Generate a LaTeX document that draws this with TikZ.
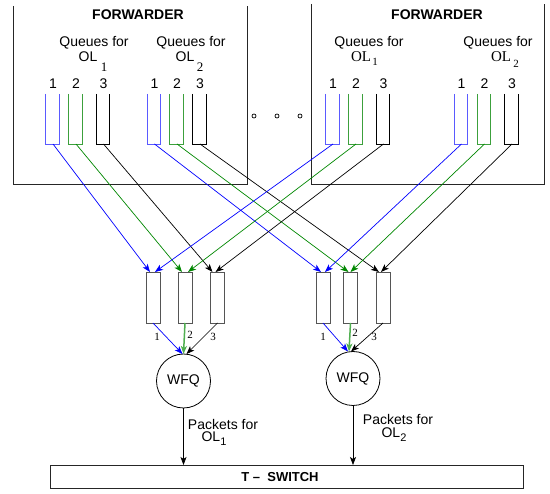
\documentclass[tikz,border=0pt]{standalone}
\usepackage{fontspec}
\setmainfont{Liberation Sans}
\newfontfamily\numserif{Liberation Serif}
\usetikzlibrary{arrows.meta,calc}

\definecolor{lineblue}{RGB}{0,0,255}
\definecolor{linegreen}{RGB}{0,135,0}
\definecolor{qblue}{RGB}{90,90,255}
\definecolor{qgreen}{RGB}{60,160,60}
\definecolor{wfqgreen}{RGB}{80,175,80}
\definecolor{boxgray}{RGB}{85,85,85}

\begin{document}
\begin{tikzpicture}[x=1pt,y=-1pt,
  every node/.style={inner sep=0pt,outer sep=0pt},
  txt/.style={font=\fontsize{14}{14}\selectfont},
  bold/.style={font=\fontsize{14}{14}\selectfont\bfseries},
  subnum/.style={font=\numserif\fontsize{13}{13}\selectfont},
  smallnum/.style={font=\numserif\fontsize{11}{11}\selectfont},
  frame/.style={draw=black!85,line width=0.9pt},
  uqueue/.style={line width=0.85pt},
  lowq/.style={draw=boxgray,line width=0.9pt,minimum width=14pt,minimum height=51pt},
  wfq/.style={draw,circle,line width=0.8pt,minimum size=54pt,font=\fontsize{14}{14}\selectfont},
  flow/.style={-{Stealth[length=8pt,width=6pt,inset=2pt]},line width=0.7pt},
  dot/.style={draw,line width=0.7pt}
]
\useasboundingbox (0,0) rectangle (550,494);

% forwarder frames (open at the top)
\draw[frame] (13,6) -- (13,184) -- (247,184) -- (247,6);
\draw[frame] (311,4) -- (311,184) -- (544,184) -- (544,4);
\node[bold] (fw1) at (138,15) {FORWARDER};
\node[bold] (fw2) at (437,15) {FORWARDER};

% queue group headings
\node[txt] (h1) at (94,43) {Queues for};
\node[txt] (h1ol) at (88,57) {OL};
\node[subnum] (h1s) at (104,67) {1};
\node[txt] (h2) at (191,43) {Queues for};
\node[txt] (h2ol) at (185,57) {OL};
\node[subnum] (h2s) at (200,67) {2};
\node[txt] (h3) at (369,43) {Queues for};
\node[font=\numserif\fontsize{15}{15}\selectfont] (h3ol) at (361,57) {OL};
\node[smallnum] (h3s) at (375,62) {1};
\node[txt] (h4) at (498,43) {Queues for};
\node[font=\numserif\fontsize{15}{15}\selectfont] (h4ol) at (501,57) {OL};
\node[smallnum] (h4s) at (516,64) {2};

% forwarder queues: open-top buckets, numbered 1-3
\foreach \n/\xl/\xr/\c/\k in {a1/45/59/qblue/1, a2/68/82/qgreen/2, a3/96/109/black/3,
                              b1/147/160/qblue/1, b2/169/183/qgreen/2, b3/192/206/black/3,
                              c1/325/339/qblue/1, c2/348/362/qgreen/2, c3/376/389/black/3,
                              d1/454/467/qblue/1, d2/477/490/qgreen/2, d3/504/518/black/3} {
  \draw[uqueue,\c] (\xl,94) -- (\xl,144) -- (\xr,144) -- (\xr,94);
  \coordinate (\n) at ({(\xl+\xr)/2+1},144);
  \node[txt] (\n num) at ({(\xl+\xr)/2+1},84) {\k};
}

% dots between the forwarders
\draw[dot] (254,116) circle (2);
\draw[dot] (277,116) circle (2);
\draw[dot] (300,116) circle (2);

% per-link queues
\node[lowq] (L1) at (153,297.5) {};
\node[lowq] (L2) at (185,297.5) {};
\node[lowq] (L3) at (217.5,297.5) {};
\node[lowq] (R1) at (323,297.5) {};
\node[lowq] (R2) at (350.5,297.5) {};
\node[lowq] (R3) at (383,297.5) {};

% WFQ schedulers
\node[wfq] (W1) at (183.5,381) {WFQ};
\node[wfq] (W2) at (353,378.5) {WFQ};

% T-switch
\node[draw=black!85,line width=0.9pt,minimum width=473pt,minimum height=23pt] (T) at (286.5,476.5) {};
\node[font=\fontsize{13}{13}\selectfont\bfseries] (Tlab) at (280,477) {T –\ \ SWITCH};

% forwarder queues to per-link queues
\draw[flow,lineblue]  (a1) -- ([xshift=-3pt]L1.north);
\draw[flow,linegreen] (a2) -- ([xshift=-3pt]L2.north);
\draw[flow]           (a3) -- ([xshift=-5pt]L3.north);
\draw[flow,lineblue]  (b1) -- ([xshift=-2pt]R1.north);
\draw[flow,linegreen] (b2) -- ([xshift=-2pt]R2.north);
\draw[flow]           (b3) -- ([xshift=-4pt]R3.north);
\draw[flow,lineblue]  (c1) -- ([xshift=2pt]L1.north);
\draw[flow,linegreen] (c2) -- ([xshift=3pt]L2.north);
\draw[flow]           (c3) -- ([xshift=-2pt]L3.north);
\draw[flow,lineblue]  (d1) -- ([xshift=2pt]R1.north);
\draw[flow,linegreen] (d2) -- (R2.north);
\draw[flow]           (d3) -- ([xshift=-2pt]R3.north);

% per-link queues to schedulers
\draw[flow,lineblue] (L1.south) -- ([xshift=-1pt]W1.north);
\draw[flow,wfqgreen,line width=1.5pt] (L2.south) -- (W1.north);
\draw[flow] (L3.south) -- ([xshift=3pt]W1.north);
\draw[flow,lineblue] (R1.south) -- ([xshift=-5pt]W2.north);
\draw[flow,wfqgreen,line width=1.5pt] (R2.south) -- ([xshift=-4pt]W2.north);
\draw[flow] (R3.south) -- ([xshift=-2pt]W2.north);

\node[smallnum] (n1) at (157,337) {1};
\node[smallnum] (n2) at (190,335) {2};
\node[smallnum] (n3) at (213,337) {3};
\node[smallnum] (m1) at (323,337) {1};
\node[smallnum] (m2) at (355,333) {2};
\node[smallnum] (m3) at (374,337) {3};

% scheduler outputs
\draw[flow] (W1.south) -- (W1.south |- T.north);
\draw[flow] (W2.south) -- (W2.south |- T.north);
\node[txt] (p1) at (223,424) {Packets for};
\node[txt] (p1ol) at (214,439) {OL\raisebox{-4pt}{\fontsize{11}{11}\selectfont 1}};
\node[txt] (p2) at (398,419) {Packets for};
\node[txt] (p2ol) at (394,435) {OL\raisebox{-4pt}{\fontsize{11}{11}\selectfont 2}};
\end{tikzpicture}
\end{document}
